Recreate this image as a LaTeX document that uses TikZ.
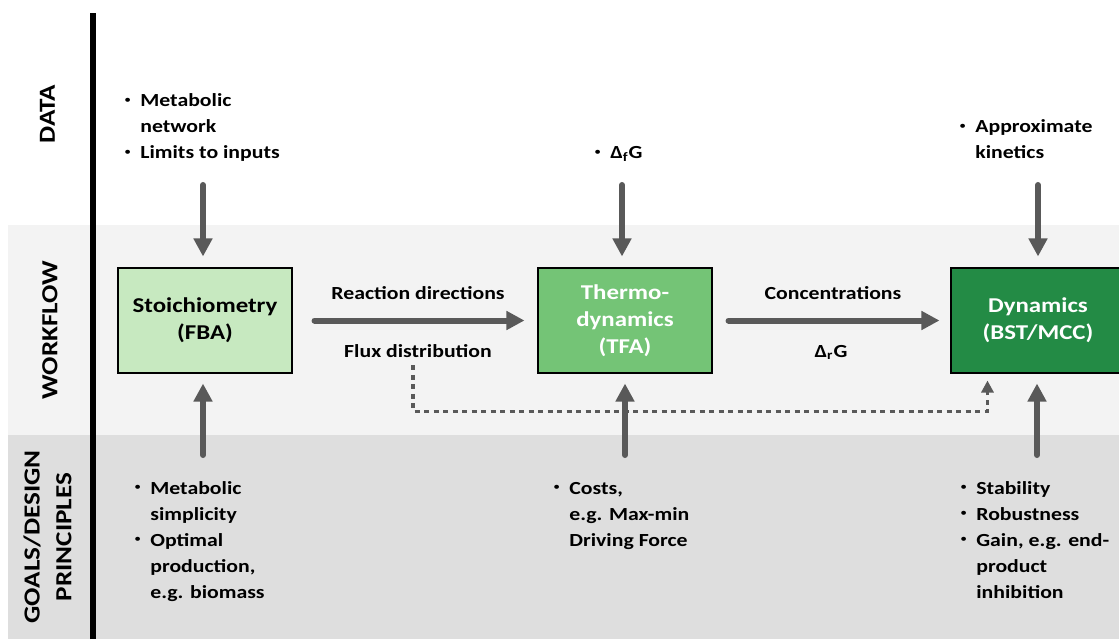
\documentclass[tikz,border=0pt]{standalone}
\usepackage{fontspec}
\setmainfont{Carlito}[FakeStretch=1.18]
\usepackage{xcolor}
\usepackage{tikz}
\usetikzlibrary{calc,arrows.meta,positioning}

\definecolor{bandlight}{HTML}{F3F3F3}
\definecolor{banddark}{HTML}{DEDEDE}
\definecolor{arrowgray}{HTML}{595959}
\definecolor{greenA}{HTML}{C7E9C0}
\definecolor{greenB}{HTML}{74C476}
\definecolor{greenC}{HTML}{238B45}

\newcommand{\bl}{\makebox[0.36cm][l]{\hspace{0.04cm}\raisebox{0.35ex}{\fontsize{6.5}{6.5}\selectfont\mdseries\textbullet}}}

\tikzset{
  stagebox/.style={draw=black,line width=0.6pt,minimum width=3.48cm,minimum height=2.1cm,align=center,font=\fontsize{12}{15.4}\selectfont\bfseries},
  lbl/.style={font=\fontsize{10.5}{14.8}\selectfont\bfseries,inner sep=0pt},
  rowlbl/.style={rotate=90,align=center,inner sep=0pt,font=\fontsize{13.1}{18.2}\selectfont\bfseries},
  flow/.style={draw=arrowgray,line width=0.12cm,line cap=round,-{Triangle[length=0.36cm,width=0.36cm]}},
  dotflow/.style={draw=arrowgray,line width=0.07cm,dash pattern=on 0.1cm off 0.09cm,-{Triangle[length=0.24cm,width=0.24cm]}}
}

\begin{document}
\begin{tikzpicture}
        \useasboundingbox (0,0) rectangle (22.38,12.78);
        \fill[bandlight] (0.16,4.08) rectangle (22.38,8.28);
        \fill[banddark] (0.16,0) rectangle (22.38,4.08);
        \draw[line width=0.12cm] (1.86,0)--(1.86,12.52);
        \node[rowlbl] (rdata) at (0.95,10.5) {DATA};
        \node[rowlbl] (rflow) at (1.0,6.18) {WORKFLOW};
        \node[rowlbl] (rgoal) at (0.95,2.04) {GOALS/DESIGN\\PRINCIPLES};
        \node[stagebox,fill=greenA] (stoich) at (4.1,6.37) {Stoichiometry\\(FBA)};
        \node[stagebox,fill=greenB,text=white] (thermo) at (12.5,6.37) {Thermo-\\dynamics\\(TFA)};
        \node[stagebox,fill=greenC,text=white] (dyn) at (20.76,6.37) {Dynamics\\(BST/MCC)};
        \node[lbl,anchor=base west] (dataA) at (2.44,9.61) {\begin{tabular}[b]{@{}l@{}l@{}}\bl & Metabolic\\ & network\\ \bl & Limits to inputs\end{tabular}};
        \node[lbl,anchor=base west] (dataB) at (11.84,9.61) {\begin{tabular}[b]{@{}l@{}l@{}}\bl & Δ\textsubscript{f}G\end{tabular}};
        \node[lbl,anchor=base west] (dataC) at (19.14,9.61) {\begin{tabular}[b]{@{}l@{}l@{}}\bl & Approximate\\ & kinetics\end{tabular}};
        \node[lbl,anchor=base west] (goalA) at (2.64,2.9) {\begin{tabular}[t]{@{}l@{}l@{}}\bl & Metabolic\\ & simplicity\\ \bl & Optimal\\ & production,\\ & e.g. biomass\end{tabular}};
        \node[lbl,anchor=base west] (goalB) at (11.02,2.9) {\begin{tabular}[t]{@{}l@{}l@{}}\bl & Costs,\\ & e.g. Max-min\\ & Driving Force\end{tabular}};
        \node[lbl,anchor=base west] (goalC) at (19.16,2.9) {\begin{tabular}[t]{@{}l@{}l@{}}\bl & Stability\\ \bl & Robustness\\ \bl & Gain, e.g. end-\\ & product\\ & inhibition\end{tabular}};
        \node[lbl,anchor=base] (react) at (8.36,6.8) {Reaction directions};
        \node[lbl,anchor=base] (flux) at (8.36,5.64) {Flux distribution};
        \node[lbl,anchor=base] (conc) at (16.66,6.8) {Concentrations};
        \node[lbl,anchor=base] (drg) at (16.62,5.64) {Δ\textsubscript{r}G};
        \coordinate (inA) at (4.06,9.08);
        \coordinate (inB) at (12.44,9.08);
        \coordinate (inC) at (20.76,9.08);
        \coordinate (upA) at (4.06,3.68);
        \coordinate (upB) at (12.5,3.68);
        \coordinate (upC) at (20.74,3.68);
        \draw[flow,shorten >=0.22cm] (inA)--(inA |- stoich.north);
        \draw[flow,shorten >=0.22cm] (inB)--(inB |- thermo.north);
        \draw[flow,shorten >=0.22cm] (inC)--(inC |- dyn.north);
        \draw[flow,shorten >=0.2cm] (upA)--(upA |- stoich.south);
        \draw[flow,shorten >=0.2cm] (upB)--(upB |- thermo.south);
        \draw[flow,shorten >=0.2cm] (upC)--(upC |- dyn.south);
        \draw[flow,shorten <=0.44cm,shorten >=0.26cm] (stoich.east)--(thermo.west);
        \draw[flow,shorten <=0.32cm,shorten >=0.22cm] (thermo.east)--(dyn.west);
        \draw[dotflow] ([xshift=-0.1cm,yshift=-0.16cm]flux.south)--++(0,-0.92) -| ([xshift=0.74cm,yshift=-0.14cm]dyn.south west);
\end{tikzpicture}
\end{document}
